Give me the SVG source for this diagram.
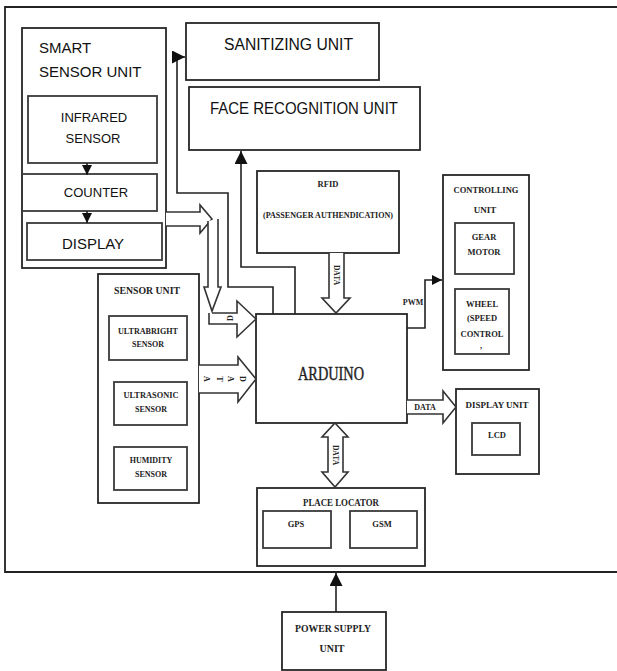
<svg xmlns="http://www.w3.org/2000/svg" width="617" height="671" viewBox="0 0 617 671">
<style>
.bx{fill:#fff;stroke:#262626;stroke-width:1.8}
.ib{fill:none;stroke:#3a3a3a;stroke-width:1.8}
.ln{fill:none;stroke:#222;stroke-width:1.6}
.ho{fill:#fff;stroke:#333;stroke-width:1.6;stroke-linejoin:miter}
.sa{font-family:"Liberation Sans",Arial,sans-serif;fill:#111}
.se{font-family:"Liberation Serif","Times New Roman",serif;font-weight:bold;fill:#222}
.rg{font-weight:normal}
</style>
<defs>
<marker id="ah" viewBox="0 0 10 10" refX="10" refY="5" markerWidth="10" markerHeight="10" markerUnits="userSpaceOnUse" orient="auto"><path d="M0,0 L10,5 L0,10 Z" fill="#111"/></marker>
<marker id="ahb" viewBox="0 0 12 12" refX="12" refY="6" markerWidth="13" markerHeight="13" markerUnits="userSpaceOnUse" orient="auto"><path d="M0,0 L12,6 L0,12 Z" fill="#111"/></marker>
</defs>
<rect width="617" height="671" fill="#fff"/>
<g id="frame"><path d="M617,7 H5 V572 H617" fill="none" stroke="#222" stroke-width="1.8"/></g>

<g id="smart-sensor-unit">
<rect class="bx" x="22" y="28" width="144" height="240"/>
<text class="sa" x="39" y="53" font-size="15">SMART</text>
<text class="sa" x="39" y="77" font-size="15">SENSOR UNIT</text>
</g>
<g id="infrared-sensor">
<rect class="ib" x="28" y="96" width="129" height="67"/>
<text class="sa" x="94" y="122" font-size="13" text-anchor="middle">INFRARED</text>
<text class="sa" x="93" y="143" font-size="13" text-anchor="middle">SENSOR</text>
</g>
<g id="counter">
<rect class="ib" x="22" y="174" width="135" height="37"/>
<text class="sa" x="96" y="197" font-size="13" text-anchor="middle">COUNTER</text>
</g>
<g id="display">
<rect class="ib" x="27" y="223" width="135" height="37"/>
<text class="sa" x="93" y="249" font-size="15" text-anchor="middle">DISPLAY</text>
</g>
<g id="sanitizing-unit">
<rect class="bx" x="186" y="23" width="193" height="57"/>
<text class="sa" x="224" y="50" font-size="16" textLength="129" lengthAdjust="spacingAndGlyphs">SANITIZING UNIT</text>
</g>
<g id="face-recognition-unit">
<rect class="bx" x="189" y="87" width="231" height="63"/>
<text class="sa" x="210" y="114" font-size="16" textLength="188" lengthAdjust="spacingAndGlyphs">FACE RECOGNITION UNIT</text>
</g>
<g id="rfid">
<rect class="bx" x="257" y="171" width="142" height="82"/>
<text class="se" x="328" y="187" font-size="8.5" text-anchor="middle">RFID</text>
<text class="se" x="263" y="218" font-size="8.5" textLength="130" lengthAdjust="spacingAndGlyphs">(PASSENGER AUTHENDICATION)</text>
</g>
<g id="controlling-unit">
<rect class="bx" x="443" y="175" width="86" height="195"/>
<text class="se" x="486" y="193" font-size="9" text-anchor="middle" textLength="65" lengthAdjust="spacingAndGlyphs">CONTROLLING</text>
<text class="se" x="485" y="213" font-size="9" text-anchor="middle">UNIT</text>
</g>
<g id="gear-motor">
<rect class="ib" x="455" y="223" width="59" height="51"/>
<text class="se" x="484" y="240" font-size="8.5" text-anchor="middle">GEAR</text>
<text class="se" x="484" y="255" font-size="8.5" text-anchor="middle">MOTOR</text>
</g>
<g id="wheel">
<rect class="ib" x="455" y="289" width="54" height="65"/>
<text class="se" x="482" y="307" font-size="8.5" text-anchor="middle">WHEEL</text>
<text class="se" x="482" y="321" font-size="8.5" text-anchor="middle">(SPEED</text>
<text class="se" x="482" y="337" font-size="8.5" text-anchor="middle">CONTROL</text>
<text class="se" x="481" y="348" font-size="8.5" text-anchor="middle">,</text>
</g>
<g id="sensor-unit">
<rect class="bx" x="98" y="274" width="101" height="229"/>
<text class="se" x="147" y="294" font-size="10" text-anchor="middle" textLength="66" lengthAdjust="spacingAndGlyphs">SENSOR UNIT</text>
</g>
<g id="ultrabright-sensor">
<rect class="ib" x="109" y="316" width="78" height="44"/>
<text class="se" x="148" y="334" font-size="8" text-anchor="middle" textLength="60" lengthAdjust="spacingAndGlyphs">ULTRABRIGHT</text>
<text class="se" x="148" y="347" font-size="8" text-anchor="middle">SENSOR</text>
</g>
<g id="ultrasonic-sensor">
<rect class="ib" x="114" y="382" width="73" height="43"/>
<text class="se" x="151" y="398" font-size="8" text-anchor="middle" textLength="55" lengthAdjust="spacingAndGlyphs">ULTRASONIC</text>
<text class="se" x="151" y="412" font-size="8" text-anchor="middle">SENSOR</text>
</g>
<g id="humidity-sensor">
<rect class="ib" x="114" y="447" width="73" height="43"/>
<text class="se" x="151" y="463" font-size="8" text-anchor="middle">HUMIDITY</text>
<text class="se" x="151" y="477" font-size="8" text-anchor="middle">SENSOR</text>
</g>
<g id="arduino">
<rect class="bx" x="256" y="314" width="151" height="109"/>
<text class="se rg" x="331" y="380" font-size="19" text-anchor="middle" textLength="66" lengthAdjust="spacingAndGlyphs" stroke="#222" stroke-width="0.4">ARDUINO</text>
</g>
<g id="display-unit">
<rect class="bx" x="456" y="389" width="83" height="85"/>
<text class="se" x="497" y="408" font-size="9" text-anchor="middle" textLength="63" lengthAdjust="spacingAndGlyphs">DISPLAY UNIT</text>
</g>
<g id="lcd">
<rect class="ib" x="472" y="423" width="48" height="32"/>
<text class="se" x="497" y="438" font-size="8.5" text-anchor="middle">LCD</text>
</g>
<g id="place-locator">
<rect class="bx" x="257" y="488" width="168" height="78"/>
<text class="se" x="341" y="506" font-size="9.5" text-anchor="middle" textLength="76" lengthAdjust="spacingAndGlyphs">PLACE LOCATOR</text>
</g>
<g id="gps">
<rect class="ib" x="263" y="511" width="68" height="37"/>
<text class="se" x="296" y="527" font-size="8.5" text-anchor="middle">GPS</text>
</g>
<g id="gsm">
<rect class="ib" x="350" y="511" width="67" height="37"/>
<text class="se" x="382" y="527" font-size="8.5" text-anchor="middle">GSM</text>
</g>
<g id="power-supply-unit">
<rect class="bx" x="282" y="612" width="104" height="58"/>
<text class="se" x="333" y="632" font-size="10" text-anchor="middle" textLength="76" lengthAdjust="spacingAndGlyphs">POWER SUPPLY</text>
<text class="se" x="332" y="652" font-size="10" text-anchor="middle">UNIT</text>
</g>

<g id="connectors">
<line class="ln" x1="87" y1="163" x2="87" y2="175" marker-end="url(#ah)"/>
<line class="ln" x1="87" y1="211" x2="87" y2="223" marker-end="url(#ah)"/>
<polyline class="ln" points="273,314 273,287 228,287 228,193 177,193 177,57 185,57" marker-end="url(#ahb)"/>
<polyline class="ln" points="295,314 295,267 241,267 241,151" marker-end="url(#ahb)"/>
<path class="ho" d="M166,212 H200 V205 L212,219 L200,233 V226 H166"/>
<path class="ho" d="M208,221 V287 H204 L212,311 L221,287 H218 V219"/>
<path class="ho" d="M212,313 H237 V301 L256,319 L237,337 V324 H209 V313"/>
<text class="se" font-size="8" transform="translate(233,318) rotate(-90)" text-anchor="middle">D</text>
<path class="ho" d="M199,365 H238 V357 L256,379 L238,402 V393 H199"/>
<g class="se" font-size="8" text-anchor="middle">
<text transform="translate(204,379) rotate(90)">A</text>
<text transform="translate(217,379) rotate(90)">T</text>
<text transform="translate(228,379) rotate(90)">A</text>
<text transform="translate(240,379) rotate(90)">D</text>
</g>
<path class="ho" d="M329,253 V298 H322 L336,313 L350,298 H344 V253"/>
<text class="se" font-size="7.5" transform="translate(334,275) rotate(90)" text-anchor="middle">DATA</text>
<polyline class="ln" points="407,328 425,328 425,280 442,280" marker-end="url(#ah)"/>
<text class="se" x="413" y="305" font-size="8" text-anchor="middle">PWM</text>
<path class="ho" d="M407,400 H443 V391 L456,407 L443,423 V414 H407"/>
<text class="se" x="425" y="410" font-size="8" text-anchor="middle">DATA</text>
<path class="ho" d="M335,423 L348,437 H343 V472 H348 L335,487 L322,472 H328 V437 H322 Z"/>
<text class="se" font-size="7.5" transform="translate(333,455) rotate(90)" text-anchor="middle">DATA</text>
<line class="ln" x1="336" y1="612" x2="336" y2="573" marker-end="url(#ahb)"/>
</g>
</svg>
